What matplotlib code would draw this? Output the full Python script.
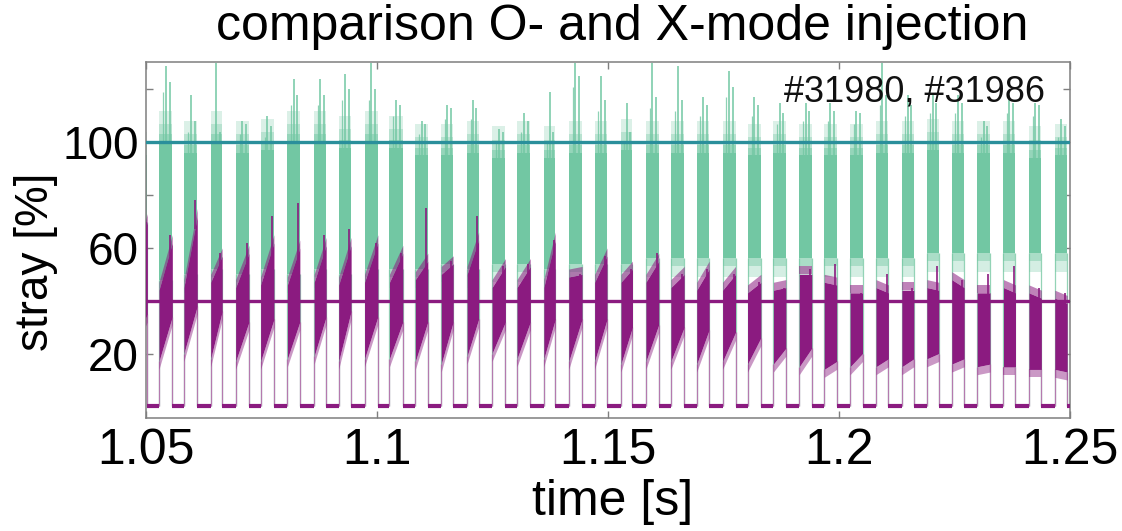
import numpy as np
import matplotlib
matplotlib.use("Agg")
import matplotlib.pyplot as plt

plt.rcParams['font.family'] = ['Liberation Sans', 'DejaVu Sans']

# ---------------- data ----------------
title = "comparison O- and X-mode injection"
xlabel = "time [s]"
ylabel = "stray [%]"
shot_text = "#31980, #31986"
x_ticks = [1.05, 1.10, 1.15, 1.20, 1.25]
x_ticklabels = ["1.05", "1.1", "1.15", "1.2", "1.25"]
y_ticks = [20, 40, 60, 80, 100, 120]
y_ticklabels = ["20", "", "60", "", "100", ""]
ref_level_x = 100   # teal reference line
ref_level_o = 40    # purple reference line
off_level = 0       # signal level between pulses

# pulse timing [s]
pulse_start = [1.0490, 1.0528, 1.0582, 1.0640, 1.0694, 1.0748, 1.0806, 1.0864, 1.0917,
               1.0973, 1.1027, 1.1083, 1.1139, 1.1195, 1.1249, 1.1303, 1.1361, 1.1415,
               1.1471, 1.1528, 1.1582, 1.1636, 1.1692, 1.1748, 1.1802, 1.1858, 1.1914,
               1.1968, 1.2024, 1.2080, 1.2136, 1.2190, 1.2244, 1.2299, 1.2356, 1.2411,
               1.2467]
pulse_end = [1.0503, 1.0557, 1.0611, 1.0665, 1.0723, 1.0777, 1.0833, 1.0890, 1.0944,
             1.1002, 1.1056, 1.1110, 1.1165, 1.1220, 1.1278, 1.1332, 1.1386, 1.1444,
             1.1498, 1.1553, 1.1610, 1.1665, 1.1719, 1.1776, 1.1831, 1.1885, 1.1941,
             1.1995, 1.2051, 1.2107, 1.2162, 1.2216, 1.2271, 1.2327, 1.2382, 1.2438,
             1.2494]

# green series (#31980): dense band low/high and spike maxima [%]
green_low = [70, 48, 50, 52, 50, 52, 50, 52, 50, 52, 52, 52, 54, 52, 54, 54, 52, 54,
             54, 54, 56, 56, 56, 56, 56, 56, 56, 56, 56, 56, 56, 58, 58, 58, 58, 58, 58]
green_high = [92, 100, 96, 100, 96, 97, 100, 100, 98, 100, 98, 95, 95, 96, 94, 96, 94, 96,
              96, 97, 96, 96, 96, 96, 95, 96, 95, 95, 95, 96, 96, 97, 96, 96, 96, 94, 95]
green_peak = [97, 129, 118, 130, 108, 110, 124, 124, 126, 130, 116, 108, 114, 116, 105, 111,
              119, 130, 125, 115, 130, 129, 117, 127, 117, 115, 115, 115, 112, 130, 118, 118,
              118, 108, 118, 115, 109]
green_peak2 = [95, 123, 108, 104, 107, 106, 118, 118, 120, 120, 114, 107, 113, 113, 104, 108,
               104, 125, 116, 104, 117, 116, 114, 121, 114, 111, 112, 112, 111, 118, 114, 115,
               115, 106, 115, 114, 106]

# purple series (#31986): band low/high at pulse start and end, spike maxima [%]
purple_low_start = [30, 17, 20, 18, 17, 17, 18, 19, 17, 18, 18, 17, 16, 19, 20, 18, 18, 17,
                    17, 16, 17, 17, 16, 17, 16, 16, 15, 14, 15, 15, 15, 18, 16, 15, 15, 14, 14]
purple_low_end = [35, 34, 38, 36, 32, 33, 32, 34, 36, 34, 32, 32, 32, 33, 32, 32, 33, 33,
                  33, 30, 31, 30, 29, 28, 26, 22, 22, 17, 20, 18, 18, 20, 18, 16, 15, 14, 13]
purple_high_start = [62, 44, 45, 47, 45, 46, 46, 47, 46, 47, 47, 48, 50, 50, 45, 45, 45, 49,
                     47, 47, 47, 45, 44, 44, 43, 44, 50, 47, 43, 45, 44, 45, 48, 43, 45, 43, 41]
purple_high_end = [70, 62, 72, 57, 58, 62, 60, 61, 61, 62, 58, 55, 54, 63, 53, 53, 63, 50,
                   57, 52, 55, 50, 52, 50, 47, 45, 50, 46, 43, 43, 44, 44, 45, 43, 43, 41, 39]
purple_peak = [70, 65, 78, 58, 62, 72, 77, 65, 67, 62, 58, 75, 55, 72, 53, 54, 63, 50,
               57, 52, 58, 50, 52, 50, 47, 45, 52, 54, 43, 50, 45, 53, 48, 50, 53, 45, 43]

# ---------------- styling ----------------
GREEN = "#72c7a3"
GREEN_EDGE = "#93d3b6"
TEAL = "#2a8f9b"
PURPLE = "#8b1b80"
PURPLE_EDGE = "#b57aaf"
GRAY = "#7f7f7f"

fig = plt.figure(figsize=(11.22, 5.31), dpi=100)
ax = fig.add_axes([146 / 1122, 113 / 531, 924 / 1122, 356 / 531])

starts = np.array(pulse_start)
ends = np.array(pulse_end)
width = ends - starts
n = len(starts)

# soft fringes (offset in %, alpha) used to fade the noisy band edges
top_fringe = [(0, 3, 0.75), (3, 7, 0.5), (7, 12, 0.25)]
bottom_fringe = [(-3, 0, 0.6), (-7, -3, 0.3)]

# green pulses
ax.vlines(np.r_[starts, ends], np.full(2 * n, off_level), np.r_[green_low, green_low],
          color=GREEN_EDGE, lw=0.9, zorder=1)
for i in range(n):
    xs = [starts[i], ends[i]]
    lo, hi = green_low[i], green_high[i]
    ax.fill_between(xs, [lo] * 2, [hi] * 2, color=GREEN, lw=0, zorder=2)
    for a, b, al in top_fringe:
        ax.fill_between(xs, [hi + a] * 2, [hi + b] * 2, color=GREEN, alpha=al, lw=0, zorder=2)
    for a, b, al in bottom_fringe:
        ax.fill_between(xs, [lo + a] * 2, [lo + b] * 2, color=GREEN, alpha=al, lw=0, zorder=2)
ax.vlines(starts + 0.5 * width, green_high, green_peak, color=GREEN, lw=1.1, zorder=2)
ax.vlines(starts + 0.8 * width, green_high, green_peak2, color=GREEN, lw=1.1, zorder=2)
ax.vlines(starts + 0.3 * width, green_high, np.array(green_peak2) - 4, color=GREEN, lw=0.9,
          alpha=0.8, zorder=2)

# purple pulses
ax.vlines(starts, np.full(n, off_level), purple_low_start, color=PURPLE_EDGE, lw=0.9, zorder=3)
ax.vlines(ends, np.full(n, off_level), purple_low_end, color=PURPLE_EDGE, lw=0.9, zorder=3)
for i in range(n):
    xs = [starts[i], ends[i]]
    los = np.array([purple_low_start[i], purple_low_end[i]])
    his = np.array([purple_high_start[i], purple_high_end[i]])
    ax.fill_between(xs, los, his, color=PURPLE, lw=0, zorder=4)
    ax.fill_between(xs, his, his + 3, color=PURPLE, alpha=0.55, lw=0, zorder=4)
    ax.fill_between(xs, los - 3, los, color=PURPLE, alpha=0.45, lw=0, zorder=4)
ax.vlines(starts + 0.85 * width, np.array(purple_high_end) - 5, purple_peak, color=PURPLE,
          lw=1.2, zorder=4)
# baseline between pulses
off_starts = np.r_[ends]
off_ends = np.r_[starts[1:], 1.2505]
ax.hlines(np.full(n, off_level), off_starts, off_ends, color=PURPLE, lw=3.0, zorder=4)

# reference levels
ax.axhline(ref_level_x, color=TEAL, lw=2.4, zorder=5)
ax.axhline(ref_level_o, color=PURPLE, lw=2.4, zorder=5)

ax.set_xlim(1.05, 1.25)
ax.set_ylim(-4.4, 130.4)
ax.set_xticks(x_ticks)
ax.set_xticklabels(x_ticklabels)
ax.set_yticks(y_ticks)
ax.set_yticklabels(y_ticklabels)
ax.tick_params(axis='both', direction='in', length=5, width=1, color=GRAY,
               top=True, right=True)
ax.tick_params(axis='x', labelsize=36, pad=7)
ax.tick_params(axis='y', labelsize=33, pad=5)
for s in ax.spines.values():
    s.set_color(GRAY)
    s.set_linewidth(1.1)

ax.set_xlabel(xlabel, fontsize=36)
ax.xaxis.set_label_coords(0.505, -0.17)
ax.set_ylabel(ylabel, fontsize=33)
ax.yaxis.set_label_coords(-0.095, 0.44)

ax.text(0.973, 0.965, shot_text, transform=ax.transAxes, ha='right', va='top',
        fontsize=26, color='#111111', zorder=6)
fig.text(622 / 1122, 1 - 4 / 531, title, ha='center', va='top', fontsize=36)

fig.savefig("out.png", dpi=100, facecolor='white')
